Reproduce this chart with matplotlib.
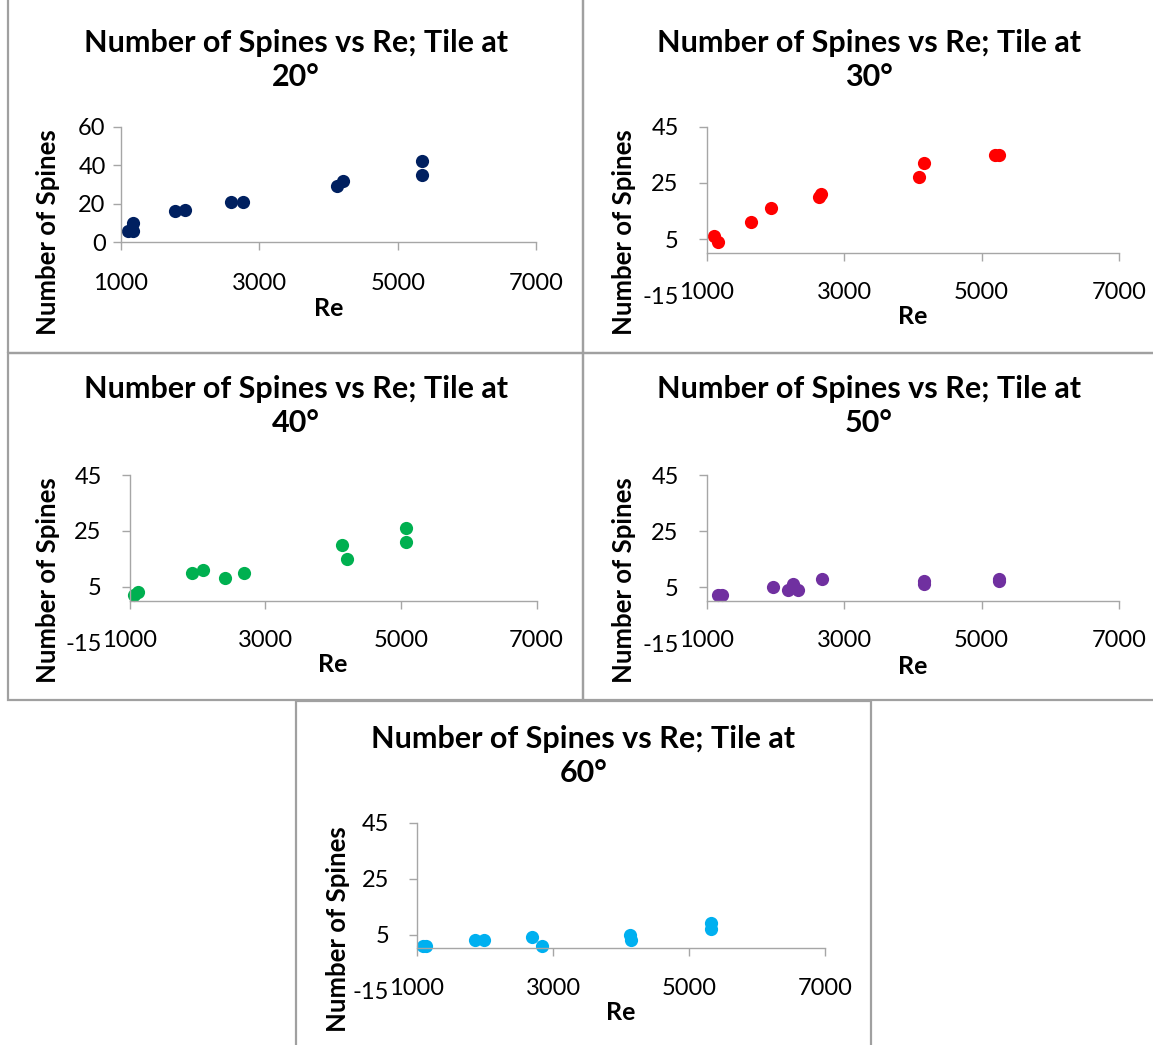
import matplotlib
matplotlib.use("Agg")
import matplotlib.pyplot as plt
from matplotlib.patches import Rectangle

plt.rcParams['font.family'] = ['Lato', 'DejaVu Sans']
plt.rcParams['axes.unicode_minus'] = False

# Re and spine counts for each tile angle
re_20 = [1105, 1177, 1177, 1780, 1924, 2592, 2763, 4125, 4210, 5340, 5340]
spines_20 = [6, 6, 10, 16, 17, 21, 21, 29, 32, 42, 35]

re_30 = [1110, 1160, 1645, 1936, 2630, 2665, 4095, 4165, 5190, 5250]
spines_30 = [6, 4, 11, 16, 20, 21, 27, 32, 35, 35]

re_40 = [1066, 1130, 1927, 2086, 2402, 2691, 4131, 4207, 5080, 5080]
spines_40 = [2, 3, 10, 11, 8, 10, 20, 15, 26, 21]

re_50 = [1160, 1230, 1960, 2190, 2260, 2330, 2673, 4165, 4165, 5252, 5252]
spines_50 = [2, 2, 5, 4, 6, 4, 8, 7, 6, 8, 7]

re_60 = [1093, 1132, 1853, 1986, 2688, 2844, 4130, 4141, 5317, 5317]
spines_60 = [1, 1, 3, 3, 4, 1, 5, 3, 9, 7]

angles = ['20°', '30°', '40°', '50°', '60°']
colors = ['#002060', '#FF0000', '#00B050', '#7030A0', '#00B0F0']
x_ticks = [1000, 3000, 5000, 7000]

W, H = 1153, 1045
fig = plt.figure(figsize=(W / 100, H / 100), dpi=100)


def rect(l, t, r, b):
    return [l / W, 1 - b / H, (r - l) / W, (b - t) / H]


def fx(x):
    return x / W


def fy(y):
    return 1 - y / H


# panel frames (left, top, right, bottom in pixels)
frames = [(8, -2, 583, 353), (583, -2, 1155, 353),
          (8, 353, 583, 700), (583, 353, 1155, 700),
          (296, 701, 871, 1047)]
# plot areas: left, y of top tick, right, y of bottom tick
areas = [(121, 126.7, 536.5, 242.3), (706.5, 126.7, 1119, 295.5),
         (129.5, 475, 536.5, 642.6), (706.5, 475, 1119, 643),
         (417, 822.7, 825, 990.4)]
# label anchors in pixels
title_y = [60, 60, 406, 406, 756]
re_y = [309, 317, 665, 667, 1013]
ylab_xy = [(48, 232), (624, 232), (48, 580), (624, 580), (337.5, 929)]

for f in frames:
    fig.add_artist(Rectangle((fx(f[0]), fy(f[3])), (f[2] - f[0]) / W, (f[3] - f[1]) / H,
                             transform=fig.transFigure, fill=False,
                             edgecolor='#A0A0A0', linewidth=1.6))

series = [(re_20, spines_20), (re_30, spines_30), (re_40, spines_40),
          (re_50, spines_50), (re_60, spines_60)]

for i, ((xs, ys), f, a) in enumerate(zip(series, frames, areas)):
    ax = fig.add_axes(rect(*a))
    ax.plot(xs, ys, 'o', color=colors[i], markersize=9.5, markeredgewidth=0, clip_on=False)
    ax.set_xlim(1000, 7000)
    ax.set_xticks(x_ticks)
    for s in ['top', 'right']:
        ax.spines[s].set_visible(False)
    for s in ['left', 'bottom']:
        ax.spines[s].set_color('#A6A6A6')
        ax.spines[s].set_linewidth(1.0)
    ax.tick_params(colors='#A6A6A6', length=6, width=1.0, labelsize=17, labelcolor='black')
    if i == 0:
        ax.set_ylim(0, 60)
        ax.set_yticks([0, 20, 40, 60])
        ax.tick_params(axis='y', pad=5)
        ax.tick_params(axis='x', pad=16)
    else:
        ax.set_ylim(-15, 45)
        ax.set_yticks([-15, 5, 25, 45])
        ax.spines['left'].set_bounds(0, 45)
        ax.spines['bottom'].set_position(('data', 0))
        ax.yaxis.get_major_ticks()[0].tick1line.set_visible(False)
        ax.tick_params(axis='y', pad=14)
        ax.tick_params(axis='x', pad=15)

    cx = (f[0] + f[2]) / 2
    fig.text(fx(cx), fy(title_y[i]), 'Number of Spines vs Re; Tile at\n' + angles[i],
             ha='center', va='center', fontsize=22, fontweight='bold', linespacing=1.25)
    fig.text(fx((a[0] + a[2]) / 2), fy(re_y[i]), 'Re',
             ha='center', va='center', fontsize=18, fontweight='bold')
    fig.text(fx(ylab_xy[i][0]), fy(ylab_xy[i][1]), 'Number of Spines',
             rotation=90, ha='center', va='center', fontsize=18.5, fontweight='bold')

fig.savefig('out.png', dpi=100)
